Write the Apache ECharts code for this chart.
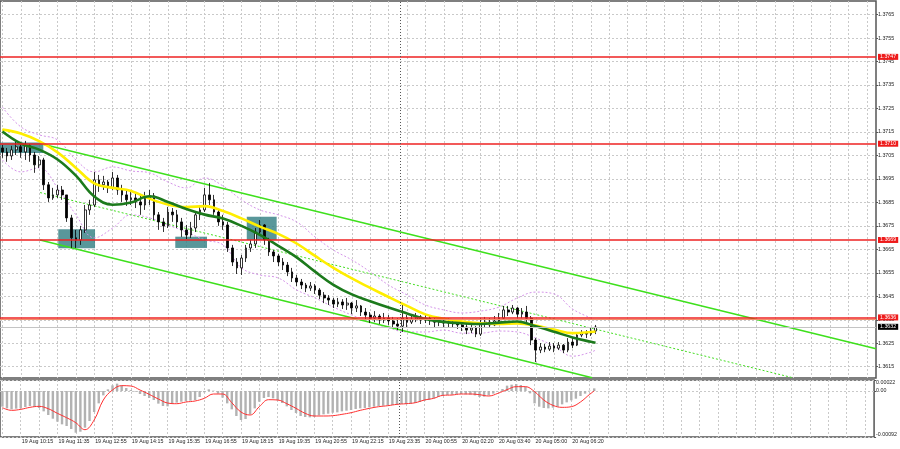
<!DOCTYPE html>
<html><head><meta charset="utf-8">
<script src="https://cdn.jsdelivr.net/npm/echarts@6/dist/echarts.min.js"></script>
<style>html,body{margin:0;padding:0;background:#fff}#c{width:900px;height:449px}</style>
</head><body><div id="c"></div>
<script>
// ---- tick labels ----
const timeLabels = ['19 Aug 08:55','19 Aug 10:15','19 Aug 11:35','19 Aug 12:55','19 Aug 14:15','19 Aug 15:35','19 Aug 16:55','19 Aug 18:15','19 Aug 19:35','19 Aug 20:55','19 Aug 22:15','19 Aug 23:35','20 Aug 00:55','20 Aug 02:20','20 Aug 03:40','20 Aug 05:00','20 Aug 06:20'];
const timeLabelSlots = [0,16,32,48,64,80,96,112,128,144,160,176,192,208,224,240,256];
const timeGridSlots = [8,16,24,32,40,48,56,64,72,80,88,96,104,112,120,128,136,144,152,160,168,176,184,192,200,208,216,224,232,240,248,256,264,272,280,288,296,304,312,320,328,336,344,352,360,368,376,384];
const priceTicks = [1.3615,1.3625,1.3635,1.3645,1.3655,1.3665,1.3675,1.3685,1.3695,1.3705,1.3715,1.3725,1.3735,1.3745,1.3755,1.3765];
const macdTicks = [-0.00092, 0, 0.00022];

// ---- candles (10-min bars, slot = firstBar + barStep*k in 5-min slots) ----
const firstBar = 8, barStep = 2;
const opens = [1.37082,1.37065,1.37048,1.37074,1.37087,1.37065,1.37091,1.37052,1.37010,1.37031,
1.36925,1.36869,1.36882,1.36903,1.36882,1.36784,1.36699,1.36690,1.36733,1.36818,
1.36839,1.36946,1.36925,1.36937,1.36912,1.36954,1.36903,1.36882,1.36861,1.36869,
1.36852,1.36839,1.36869,1.36878,1.36797,1.36767,1.36750,1.36809,1.36797,1.36767,
1.36733,1.36711,1.36741,1.36797,1.36818,1.36882,1.36861,1.36809,1.36767,1.36754,
1.36656,1.36596,1.36571,1.36613,1.36656,1.36673,1.36724,1.36754,1.36690,1.36639,
1.36622,1.36596,1.36583,1.36554,1.36528,1.36511,1.36498,1.36485,1.36494,1.36477,
1.36455,1.36443,1.36434,1.36417,1.36426,1.36413,1.36421,1.36400,1.36409,1.36383,
1.36370,1.36357,1.36366,1.36349,1.36357,1.36345,1.36332,1.36323,1.36357,1.36340,
1.36353,1.36362,1.36349,1.36357,1.36345,1.36340,1.36345,1.36336,1.36340,1.36332,
1.36328,1.36319,1.36306,1.36315,1.36289,1.36332,1.36340,1.36328,1.36345,1.36357,
1.36392,1.36383,1.36400,1.36374,1.36383,1.36357,1.36264,1.36221,1.36234,1.36225,
1.36238,1.36229,1.36242,1.36221,1.36255,1.36242,1.36285,1.36293,1.36289,1.36302];
const closes = [1.37065,1.37048,1.37074,1.37087,1.37065,1.37091,1.37052,1.37010,1.37031,1.36925,
1.36869,1.36882,1.36903,1.36882,1.36784,1.36699,1.36690,1.36733,1.36818,1.36839,
1.36946,1.36925,1.36937,1.36912,1.36954,1.36903,1.36882,1.36861,1.36869,1.36852,
1.36839,1.36869,1.36878,1.36797,1.36767,1.36750,1.36809,1.36797,1.36767,1.36733,
1.36711,1.36741,1.36797,1.36818,1.36882,1.36861,1.36809,1.36767,1.36754,1.36656,
1.36596,1.36571,1.36613,1.36656,1.36673,1.36724,1.36754,1.36690,1.36639,1.36622,
1.36596,1.36583,1.36554,1.36528,1.36511,1.36498,1.36485,1.36494,1.36477,1.36455,
1.36443,1.36434,1.36417,1.36426,1.36413,1.36421,1.36400,1.36409,1.36383,1.36370,
1.36357,1.36366,1.36349,1.36357,1.36345,1.36332,1.36323,1.36357,1.36340,1.36353,
1.36362,1.36349,1.36357,1.36345,1.36340,1.36345,1.36336,1.36340,1.36332,1.36328,
1.36319,1.36306,1.36315,1.36289,1.36332,1.36340,1.36328,1.36345,1.36357,1.36392,
1.36383,1.36400,1.36374,1.36383,1.36357,1.36264,1.36221,1.36234,1.36225,1.36238,
1.36229,1.36242,1.36221,1.36255,1.36242,1.36285,1.36293,1.36289,1.36302,1.36319];
const highs = [1.37095,1.37082,1.37091,1.37112,1.37108,1.37112,1.37099,1.37065,1.37048,1.37040,
1.36937,1.36912,1.36925,1.36920,1.36882,1.36797,1.36733,1.36750,1.36839,1.36861,
1.36980,1.36967,1.36963,1.36946,1.36980,1.36967,1.36925,1.36903,1.36895,1.36886,
1.36882,1.36895,1.36903,1.36890,1.36809,1.36784,1.36831,1.36826,1.36818,1.36784,
1.36754,1.36767,1.36809,1.36839,1.36912,1.36933,1.36882,1.36818,1.36797,1.36767,
1.36669,1.36613,1.36626,1.36669,1.36690,1.36741,1.36775,1.36758,1.36699,1.36647,
1.36630,1.36613,1.36596,1.36571,1.36541,1.36524,1.36507,1.36511,1.36502,1.36485,
1.36468,1.36455,1.36443,1.36443,1.36438,1.36443,1.36426,1.36434,1.36413,1.36400,
1.36383,1.36387,1.36374,1.36379,1.36370,1.36362,1.36357,1.36413,1.36370,1.36374,
1.36379,1.36370,1.36374,1.36366,1.36357,1.36362,1.36357,1.36357,1.36349,1.36349,
1.36340,1.36332,1.36336,1.36323,1.36357,1.36362,1.36357,1.36366,1.36379,1.36409,
1.36409,1.36413,1.36404,1.36400,1.36409,1.36366,1.36272,1.36251,1.36247,1.36255,
1.36251,1.36255,1.36247,1.36272,1.36276,1.36298,1.36306,1.36306,1.36315,1.36328];
const lows = [1.37040,1.37023,1.37031,1.37052,1.37040,1.37031,1.37023,1.36976,1.36997,1.36903,
1.36852,1.36861,1.36869,1.36861,1.36767,1.36656,1.36656,1.36669,1.36720,1.36797,
1.36830,1.36895,1.36903,1.36890,1.36903,1.36882,1.36852,1.36835,1.36839,1.36826,
1.36797,1.36818,1.36839,1.36775,1.36733,1.36724,1.36741,1.36767,1.36741,1.36703,
1.36694,1.36699,1.36724,1.36775,1.36809,1.36839,1.36797,1.36750,1.36733,1.36639,
1.36579,1.36545,1.36541,1.36596,1.36639,1.36656,1.36707,1.36669,1.36622,1.36596,
1.36579,1.36562,1.36536,1.36511,1.36494,1.36481,1.36468,1.36473,1.36460,1.36438,
1.36421,1.36413,1.36400,1.36404,1.36396,1.36392,1.36374,1.36383,1.36366,1.36349,
1.36336,1.36340,1.36332,1.36336,1.36328,1.36315,1.36306,1.36298,1.36315,1.36332,
1.36340,1.36332,1.36336,1.36328,1.36319,1.36323,1.36319,1.36319,1.36315,1.36311,
1.36302,1.36289,1.36293,1.36276,1.36281,1.36319,1.36315,1.36323,1.36336,1.36350,
1.36366,1.36374,1.36357,1.36357,1.36340,1.36242,1.36170,1.36208,1.36212,1.36217,
1.36212,1.36221,1.36208,1.36212,1.36229,1.36238,1.36276,1.36272,1.36281,1.36289];

// ---- moving averages and envelope (read every 8 slots) ----
const maIndex = [8,16,24,32,40,48,56,64,72,80,88,96,104,112,120,128,136,144,152,160,168,176,184,192,200,208,216,224,232,240,248,256,264,266];
const maYellow = [1.37160,1.37144,1.37111,1.37063,1.36997,1.36931,1.36912,1.36899,1.36866,1.36841,1.36830,1.36834,1.36813,1.36782,1.36747,1.36716,1.36675,1.36622,1.36571,1.36526,1.36486,1.36447,1.36409,1.36373,1.36354,1.36342,1.36335,1.36332,1.36334,1.36325,1.36308,1.36293,1.36298,1.36300];
const maGreen = [1.37152,1.37101,1.37075,1.37033,1.36964,1.36875,1.36840,1.36850,1.36876,1.36852,1.36822,1.36798,1.36781,1.36750,1.36712,1.36665,1.36616,1.36555,1.36499,1.36458,1.36429,1.36402,1.36377,1.36353,1.36341,1.36335,1.36332,1.36338,1.36343,1.36322,1.36299,1.36275,1.36256,1.36252];
const bandUpper = [1.37256,1.37172,1.37138,1.37116,1.37031,1.36980,1.37001,1.36984,1.36976,1.36937,1.36912,1.36954,1.36920,1.36861,1.36818,1.36797,1.36767,1.36703,1.36647,1.36605,1.36554,1.36498,1.36456,1.36413,1.36392,1.36379,1.36387,1.36404,1.36443,1.36468,1.36460,1.36396,1.36357,1.36349];
const bandLower = [1.37031,1.36980,1.36997,1.36912,1.36797,1.36699,1.36741,1.36797,1.36784,1.36754,1.36724,1.36690,1.36669,1.36571,1.36541,1.36528,1.36477,1.36443,1.36404,1.36370,1.36340,1.36315,1.36298,1.36298,1.36306,1.36293,1.36293,1.36302,1.36298,1.36272,1.36238,1.36195,1.36212,1.36221];

// ---- MACD ----
const macdHist = [-0.000313,-0.000347,-0.000367,-0.000354,-0.000347,-0.000320,-0.000300,-0.000320,-0.000340,-0.000407,
-0.000480,-0.000554,-0.000614,-0.000667,-0.000700,-0.000760,-0.000834,-0.000814,-0.000734,-0.000600,
-0.000420,-0.000247,-0.000087,0.000033,0.000113,0.000147,0.000113,0.000060,0.000020,-0.000013,
-0.000060,-0.000100,-0.000140,-0.000180,-0.000253,-0.000300,-0.000307,-0.000260,-0.000233,-0.000214,
-0.000200,-0.000194,-0.000180,-0.000120,-0.000027,0.000033,0.000007,-0.000053,-0.000133,-0.000247,
-0.000367,-0.000500,-0.000580,-0.000560,-0.000467,-0.000347,-0.000214,-0.000140,-0.000120,-0.000147,
-0.000187,-0.000240,-0.000307,-0.000380,-0.000440,-0.000500,-0.000520,-0.000527,-0.000514,-0.000487,
-0.000467,-0.000454,-0.000434,-0.000427,-0.000407,-0.000394,-0.000380,-0.000360,-0.000347,-0.000340,
-0.000327,-0.000314,-0.000300,-0.000294,-0.000287,-0.000280,-0.000274,-0.000260,-0.000260,-0.000253,
-0.000240,-0.000220,-0.000194,-0.000174,-0.000147,-0.000120,-0.000093,-0.000080,-0.000073,-0.000067,
-0.000060,-0.000067,-0.000073,-0.000087,-0.000120,-0.000113,-0.000087,-0.000053,-0.000007,0.000040,
0.000107,0.000127,0.000140,0.000120,0.000087,-0.000047,-0.000247,-0.000314,-0.000340,-0.000347,
-0.000334,-0.000314,-0.000267,-0.000227,-0.000187,-0.000154,-0.000100,-0.000053,0.000007,0.000053];
const signalIndex = [8,12,16,20,24,28,32,36,40,44,48,52,56,60,64,68,72,76,80,84,88,92,96,100,104,108,112,116,120,124,128,132,136,140,144,148,152,156,160,164,168,172,176,180,184,188,192,196,200,204,208,212,216,220,224,228,232,236,240,244,248,252,256,260,264,266];
const macdSignal = [-0.000334,-0.000387,-0.000367,-0.000327,-0.000307,-0.000354,-0.000447,-0.000534,-0.000634,-0.000774,
-0.000580,-0.000180,0.000020,0.000107,0.000100,0.000020,-0.000067,-0.000160,-0.000240,-0.000254,
-0.000220,-0.000200,-0.000147,-0.000060,-0.000060,-0.000234,-0.000420,-0.000480,-0.000314,-0.000174,
-0.000180,-0.000254,-0.000347,-0.000447,-0.000500,-0.000500,-0.000494,-0.000467,-0.000434,-0.000387,
-0.000347,-0.000314,-0.000294,-0.000267,-0.000254,-0.000234,-0.000180,-0.000147,-0.000087,-0.000080,
-0.000060,-0.000060,-0.000074,-0.000100,-0.000047,0.000027,0.000087,0.000087,-0.000013,-0.000180,
-0.000287,-0.000327,-0.000314,-0.000220,-0.000067,0.000000];

// ---- drawn objects ----
const levels = [1.3747, 1.3710, 1.3669, 1.3636];
const orangeLevel = 1.36352;
const bidPrice = 1.3632;
const channelUpper = [[25.2, 1.37099], [388, 1.36227]];
const channelLower = [[24.4, 1.36690], [264.5, 1.36103]];
const channelMid = [[24.4, 1.36892], [351.9, 1.36103]];
const zones = [
  [[6.96, 1.37105], [25.8, 1.37060]],
  [[32.3, 1.36736], [48.3, 1.36655]],
  [[83.2, 1.36704], [97.0, 1.36656]],
  [[114.3, 1.36789], [127.3, 1.36690]]
];
const sessionBreak = 181;
const slotMin = 6.96, slotMax = 388;

const FONT = 'Liberation Sans';
const gridLine = {show: true, lineStyle: {color: '#c9c9c9', type: [2, 2], width: 1}};

const candleData = closes.map((c, k) => [firstBar + barStep * k, opens[k], c, lows[k], highs[k]]);
const pair = (idx, vals) => idx.map((x, j) => [x, vals[j]]);
const histData = macdHist.map((v, k) => [firstBar + barStep * k, v]);

const boxLabel = (bg) => ({
  show: true, position: 'end', distance: 2,
  formatter: p => Number(p.value).toFixed(4),
  color: '#fff', backgroundColor: bg, padding: [1, 2, 0, 2],
  fontSize: 5.3, fontFamily: FONT
});

const chart = echarts.init(document.getElementById('c'), null, {renderer: 'canvas'});
chart.setOption({
  animation: false,
  backgroundColor: '#ffffff',
  grid: [
    {left: 0, right: 24, top: 1, height: 377, show: true, borderColor: '#555', borderWidth: 1.5, backgroundColor: 'transparent'},
    {left: 0, right: 24, top: 380, height: 57, show: true, borderColor: '#555', borderWidth: 1.5, backgroundColor: 'transparent'}
  ],
  xAxis: [
    {gridIndex: 0, type: 'value', min: slotMin, max: slotMax,
     axisLine: {show: false}, axisTick: {show: false, customValues: timeGridSlots}, axisLabel: {show: false}, splitLine: gridLine},
    {gridIndex: 1, type: 'value', min: slotMin, max: slotMax,
     axisLine: {show: false}, axisTick: {show: false, customValues: timeGridSlots}, splitLine: gridLine,
     axisLabel: {show: true, customValues: timeLabelSlots, align: 'left', margin: 2, fontSize: 5.3, color: '#222', fontFamily: FONT, padding: [0, 0, 0, 1],
       formatter: v => { const j = timeLabelSlots.indexOf(Math.round(v)); return j >= 0 ? timeLabels[j] : ''; }}}
  ],
  yAxis: [
    {gridIndex: 0, type: 'value', position: 'right', min: 1.36102, max: 1.37708,
     axisLine: {show: false},
     axisTick: {show: true, customValues: priceTicks, length: 2, lineStyle: {color: '#555'}},
     axisLabel: {customValues: priceTicks, formatter: v => Number(v).toFixed(4), fontSize: 5.3, color: '#222', margin: 2, fontFamily: FONT},
     splitLine: gridLine},
    {gridIndex: 1, type: 'value', position: 'right', min: -0.00092, max: 0.00022,
     axisLine: {show: false},
     axisTick: {show: true, customValues: macdTicks, length: 2, lineStyle: {color: '#555'}},
     axisLabel: {customValues: macdTicks, fontSize: 5.3, color: '#222', margin: 2, fontFamily: FONT,
       verticalAlignMaxLabel: 'top', verticalAlignMinLabel: 'bottom',
       formatter: v => (Math.abs(v) < 1e-9 ? '0.00' : Number(v).toFixed(5))},
     splitLine: gridLine}
  ],
  series: [
    {type: 'line', name: 'bandUpper', xAxisIndex: 0, yAxisIndex: 0, data: pair(maIndex, bandUpper), smooth: 0.4, symbol: 'none',
     lineStyle: {color: '#d595ea', width: 1, type: [2, 2]}, z: 2},
    {type: 'line', name: 'bandLower', xAxisIndex: 0, yAxisIndex: 0, data: pair(maIndex, bandLower), smooth: 0.4, symbol: 'none',
     lineStyle: {color: '#d595ea', width: 1, type: [2, 2]}, z: 2},
    {type: 'line', name: 'channelMid', xAxisIndex: 0, yAxisIndex: 0, data: channelMid, symbol: 'none',
     lineStyle: {color: '#44dd22', width: 1, type: [2, 2]}, z: 2},
    {type: 'line', name: 'channelUpper', xAxisIndex: 0, yAxisIndex: 0, data: channelUpper, symbol: 'none',
     lineStyle: {color: '#3ee01c', width: 1.6}, z: 2},
    {type: 'line', name: 'channelLower', xAxisIndex: 0, yAxisIndex: 0, data: channelLower, symbol: 'none',
     lineStyle: {color: '#3ee01c', width: 1.6}, z: 2},
    {type: 'candlestick', name: 'price', xAxisIndex: 0, yAxisIndex: 0, data: candleData,
     encode: {x: 0, y: [1, 2, 3, 4]}, barWidth: 2.2, z: 3,
     itemStyle: {color: '#ffffff', color0: '#000000', borderColor: '#000000', borderColor0: '#000000', borderWidth: 0.8}},
    {type: 'line', name: 'maYellow', xAxisIndex: 0, yAxisIndex: 0, data: pair(maIndex, maYellow), smooth: 0.4, symbol: 'none',
     lineStyle: {color: '#ffee00', width: 2.6}, z: 4},
    {type: 'line', name: 'maGreen', xAxisIndex: 0, yAxisIndex: 0, data: pair(maIndex, maGreen), smooth: 0.4, symbol: 'none',
     lineStyle: {color: '#1c7a1c', width: 2.6}, z: 4},
    {type: 'line', name: 'zonesAndLevels', xAxisIndex: 0, yAxisIndex: 0, data: channelUpper, symbol: 'none',
     lineStyle: {opacity: 0}, z: 5, silent: true,
     markArea: {silent: true, itemStyle: {color: 'rgba(52,128,132,0.82)'},
       data: zones.map(z => [{coord: z[0]}, {coord: z[1]}])},
     markLine: {silent: true, symbol: ['none', 'none'], animation: false, precision: 5,
       data: [
         {yAxis: orangeLevel, lineStyle: {color: '#f3906a', width: 1, type: 'solid'}, label: {show: false}},
         {yAxis: bidPrice, lineStyle: {color: '#c4c4c4', width: 1, type: 'solid'}, label: boxLabel('#000000')},
         ...levels.map(v => ({yAxis: v, lineStyle: {color: '#ee2222', width: 1.6, type: 'solid'}, label: boxLabel('#ee1a1a')})),
         {xAxis: sessionBreak, lineStyle: {color: '#555', width: 1, type: [1, 2]}, label: {show: false}}
       ]}},
    {type: 'bar', name: 'macd', xAxisIndex: 1, yAxisIndex: 1, data: histData, barWidth: 2.4,
     itemStyle: {color: '#b2b2b2'}, z: 2,
     markLine: {silent: true, symbol: ['none', 'none'], animation: false, precision: 5,
       data: [{xAxis: sessionBreak, lineStyle: {color: '#555', width: 1, type: [1, 2]}, label: {show: false}}]}},
    {type: 'line', name: 'signal', xAxisIndex: 1, yAxisIndex: 1, data: pair(signalIndex, macdSignal), smooth: 0.4, symbol: 'none',
     lineStyle: {color: '#ff3030', width: 1}, z: 3}
  ]
});
</script>
</body></html>
